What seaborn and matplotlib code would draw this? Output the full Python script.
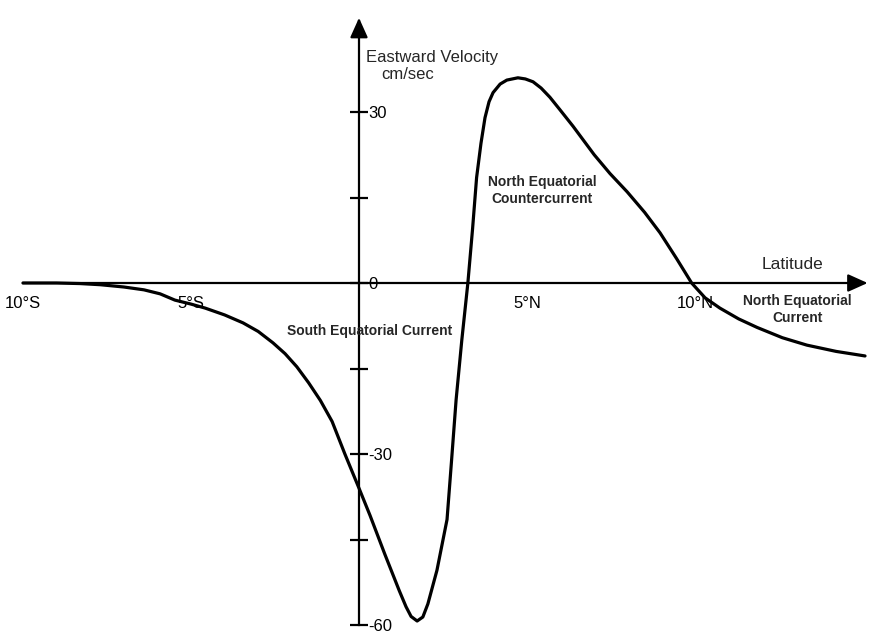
import matplotlib
matplotlib.use("Agg")
import matplotlib.pyplot as plt
import seaborn as sns
import pandas as pd

# Eastward velocity (cm/sec) across the equatorial current system
latitude = [-10.0, -9.0, -8.3, -7.7, -7.0, -6.4, -5.92, -5.48, -5.0, -4.58,
            -4.0, -3.45, -3.0, -2.56, -2.2, -1.85, -1.5, -1.15, -0.8, -0.42,
            0.0, 0.33, 0.77, 1.2, 1.4, 1.55, 1.73, 1.9, 2.05, 2.32,
            2.62, 2.75, 2.89, 3.06, 3.24, 3.38, 3.5, 3.63, 3.75, 3.87,
            3.99, 4.2, 4.4, 4.73, 4.95, 5.18, 5.42, 5.68, 5.98, 6.37,
            7.0, 7.47, 7.98, 8.5, 8.96, 9.45, 9.9, 10.3, 10.74, 11.3,
            11.85, 12.6, 13.33, 14.2, 15.06]
velocity = [0.0, 0.0, -0.1, -0.3, -0.7, -1.2, -1.9, -3.0, -3.7, -4.4,
            -5.6, -7.0, -8.5, -10.5, -12.4, -14.7, -17.5, -20.6, -24.3, -30.0,
            -36.0, -40.8, -47.6, -54.0, -56.8, -58.5, -59.3, -58.6, -56.3, -50.4,
            -41.5, -31.5, -20.5, -10.0, 0.0, 9.5, 18.5, 24.5, 29.0, 31.8,
            33.4, 34.9, 35.6, 36.0, 35.8, 35.3, 34.2, 32.6, 30.4, 27.5,
            22.5, 19.2, 16.0, 12.4, 8.8, 4.3, 0.0, -2.6, -4.4, -6.3,
            -7.8, -9.6, -10.9, -12.0, -12.8]

x_ticks = [-10, -7.5, -5, -2.5, 2.5, 5, 7.5, 10, 12.5]
x_tick_labels = ["10°S", "", "5°S", "", "", "5°N", "", "10°N", ""]
y_ticks = [-60, -45, -30, -15, 0, 15, 30]
y_tick_labels = ["-60", "", "-30", "", "0", "", "30"]

df = pd.DataFrame({"lat": latitude, "vel": velocity})

sns.set_theme(style="white")
plt.rcParams["font.family"] = ["Liberation Sans", "DejaVu Sans"]

fig = plt.figure(figsize=(8.77, 6.33), dpi=100)
ax = fig.add_axes([0, 0, 1, 1])

sns.lineplot(data=df, x="lat", y="vel", ax=ax, color="black",
             linewidth=2.3, estimator=None, sort=False)

px_per_deg = 33.6
px_per_unit = 5.7
ax.set_xlim(-359 / px_per_deg, (877 - 359) / px_per_deg)
ax.set_ylim(-(633 - 283) / px_per_unit, 283 / px_per_unit)
ax.set_xlabel("")
ax.set_ylabel("")

# cross-shaped axes through the origin
for side in ["top", "left"]:
    ax.spines[side].set_visible(False)
ax.spines["bottom"].set_position(("data", 0))
ax.spines["right"].set_position(("data", 0))
ax.spines["bottom"].set_bounds(-10, 14.8)
ax.spines["right"].set_bounds(-60, 46.0)
for side in ["bottom", "right"]:
    ax.spines[side].set_linewidth(1.6)
    ax.spines[side].set_color("black")

ax.yaxis.tick_right()
ax.set_xticks(x_ticks)
ax.set_xticklabels(x_tick_labels)
ax.set_yticks(y_ticks)
ax.set_yticklabels(y_tick_labels)
ax.tick_params(axis="x", direction="inout", length=9, width=1.6, pad=5,
               labelsize=12, colors="black")
ax.tick_params(axis="y", direction="inout", length=13, width=1.6, pad=0,
               labelsize=12, colors="black")
ax.grid(False)

# arrowheads on the axes
ax.annotate("", xy=(15.22, 0), xytext=(14.6, 0),
            arrowprops=dict(arrowstyle="-|>,head_length=1.0,head_width=0.45",
                            color="black", lw=1.6))
ax.annotate("", xy=(0, 47.0), xytext=(0, 43.0),
            arrowprops=dict(arrowstyle="-|>,head_length=1.0,head_width=0.45",
                            color="black", lw=1.6))

ax.text(0.2, 39.6, "Eastward Velocity", fontsize=12, ha="left", va="center")
ax.text(1.46, 36.5, "cm/sec", fontsize=12, ha="center", va="center")
ax.text(12.9, 3.2, "Latitude", fontsize=12.5, ha="center", va="center")
ax.text(5.45, 16.2, "North Equatorial\nCountercurrent", fontsize=10,
        fontweight="bold", ha="center", va="center", linespacing=1.25)
ax.text(0.31, -8.5, "South Equatorial Current", fontsize=10,
        fontweight="bold", ha="center", va="center")
ax.text(13.04, -4.7, "North Equatorial\nCurrent", fontsize=10,
        fontweight="bold", ha="center", va="center", linespacing=1.25)

fig.savefig("out.png", dpi=100, facecolor="white")
